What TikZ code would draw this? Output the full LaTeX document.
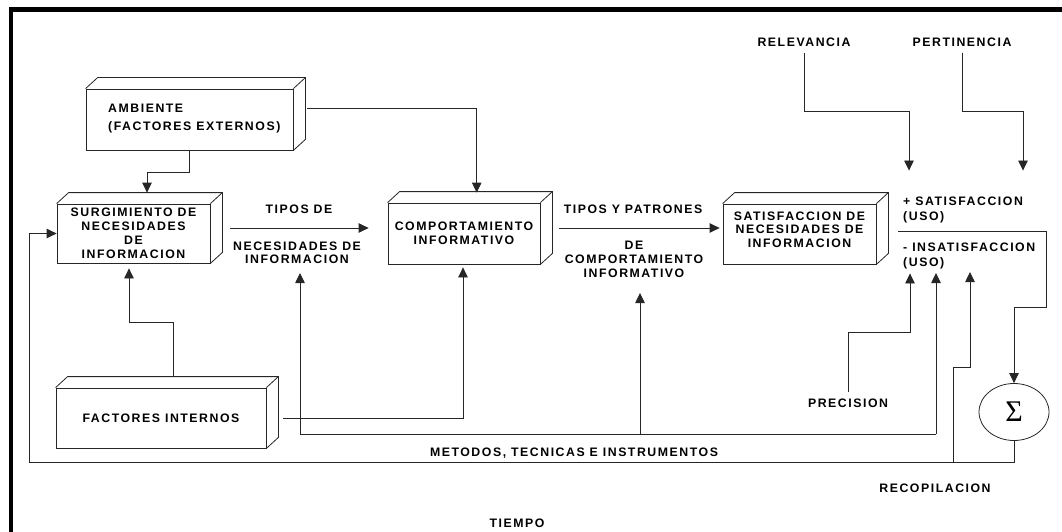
\documentclass[tikz,border=0pt]{standalone}
\usepackage{fontspec}
\newfontfamily\lbl{Liberation Sans}[LetterSpace=12.5]
\newfontfamily\sigfont{Liberation Serif}
\usetikzlibrary{arrows.meta,calc,shapes.geometric}
\newcommand\lblfont[1]{\lbl\bfseries\fontsize{12.3}{#1}\selectfont}
\newcommand\cubefaces[1]{%
  \draw[conn, line join=miter] (#1.north west) -- ++(12,-11)
    -- ([shift={(12,-11)}]#1.north east) -- ([shift={(12,-11)}]#1.south east)
    -- (#1.south east) (#1.north east) -- ++(12,-11);}
\tikzset{
  txt/.style={font=\lblfont{14}, inner sep=0pt, align=center},
  cube/.style={draw=black!85, line width=0.8pt, fill=white, inner sep=0pt,
    align=center, font=\lblfont{14}},
  conn/.style={draw=black!85, line width=0.8pt},
  arr/.style={conn, -{Triangle[length=10pt,width=9.5pt]}},
}
\begin{document}
\begin{tikzpicture}[x=1pt,y=-1pt]
\useasboundingbox (0,0) rectangle (1062,532);
\draw[line width=4.3pt, line join=miter] (11,532) -- (11,9.5) -- (1062,9.5);

% boxes
\node[cube, minimum width=207pt, minimum height=61pt] (amb) at (189.5,119.5) {};
\cubefaces{amb}
\node[txt, anchor=west, align=left, font=\lblfont{17.4}] (ambT) at (108,118.5) {AMBIENTE\\(FACTORES EXTERNOS)};
\node[cube, minimum width=153pt, minimum height=59pt] (surg) at (133.5,233.5) {SURGIMIENTO DE\\NECESIDADES\\DE\\INFORMACION};
\cubefaces{surg}
\node[cube, minimum width=152pt, minimum height=61pt, font=\lblfont{13.5}] (comp) at (464,233.5) {COMPORTAMIENTO\\INFORMATIVO};
\cubefaces{comp}
\node[cube, minimum width=153pt, minimum height=60pt] (sat) at (799.5,234) {};
\cubefaces{sat}
\node[txt, font=\lblfont{13.5}] (satT) at (799.5,229.5) {SATISFACCION DE\\NECESIDADES DE\\INFORMACION};
\node[cube, minimum width=210pt, minimum height=60pt] (fact) at (161,418) {FACTORES INTERNOS};
\cubefaces{fact}

% labels
\node[txt] (tiposde) at (299,209) {TIPOS DE};
\node[txt, font=\lblfont{12.5}] (necinf) at (297,253) {NECESIDADES DE\\INFORMACION};
\node[txt] (tipospat) at (633,209) {TIPOS Y PATRONES};
\node[txt] (decomp) at (634,259) {DE\\COMPORTAMIENTO\\INFORMATIVO};
\node[txt] (relev) at (804,42) {RELEVANCIA};
\node[txt] (pert) at (962,42) {PERTINENCIA};
\node[txt, anchor=west, align=left, font=\lblfont{15}] (satis) at (903,209.5) {+ SATISFACCION\\(USO)};
\node[txt, anchor=west, align=left, font=\lblfont{15}] (insat) at (903,255.5) {- INSATISFACCION\\(USO)};
\node[txt] (prec) at (848,403) {PRECISION};
\node[txt] (metod) at (574,453) {METODOS, TECNICAS E INSTRUMENTOS};
\node[txt] (recop) at (935,488) {RECOPILACION};
\node[txt] (tiempo) at (517,523) {TIEMPO};
\node[ellipse, draw=black!85, line width=0.8pt, minimum width=70pt, minimum height=57pt, inner sep=0pt] (sig) at (1014,412) {\sigfont\fontsize{30}{30}\selectfont Σ};

% coordinates
\coordinate (mL) at (300,434);
\coordinate (mM) at (640,434);
\coordinate (mR) at (936,434);
\coordinate (rJ) at (953,462);
\coordinate (divL) at (898,231);
\coordinate (fbL) at ([xshift=-27pt]surg.west);

% connectors
\draw[arr] ([shift={(14,-11.5)}]amb.east) -| ([shift={(12.7,-10)}]comp.north);
\draw[arr] (amb.south) -- ++(0,22) -| ([shift={(13.5,-11)}]surg.north);
\draw[arr] ([shift={(20,-5.5)}]surg.east) -- ([shift={(-19,-5.5)}]comp.west);
\draw[arr] ([shift={(19,-5.5)}]comp.east) -- ([shift={(-3,-6)}]sat.west);
\draw[arr] ([shift={(12,-11)}]fact.north) -- ++(0,-54) -| ([shift={(-4.5,5)}]surg.south);
\draw[arr] ([xshift=17pt]fact.east) -| ([shift={(-1,3)}]comp.south);

\draw[conn] (mL) -- (mR);
\draw[arr] (mL) -- ++(0,-161);
\draw[arr] (mM) -- ++(0,-141);
\draw[arr] (mR) -- ++(0,-161);

\draw[arr] ([yshift=6pt]prec.north) -- ++(0,-60) -| ++(62,-59);
\draw[arr] (rJ) -- ++(0,-95) -| ++(17,-95);
\draw[arr] ([yshift=-6pt]relev.south) -- ++(0,59) -| ++(105,59);
\draw[arr] ([yshift=-6pt]pert.south) -- ++(0,59) -| ++(61,59);
\draw[arr] (divL) -- ++(148,0) -- ++(0,76) -| (sig.north);
\draw[arr] (sig.south) |- (fbL |- rJ) |- (surg.west);
\end{tikzpicture}
\end{document}
